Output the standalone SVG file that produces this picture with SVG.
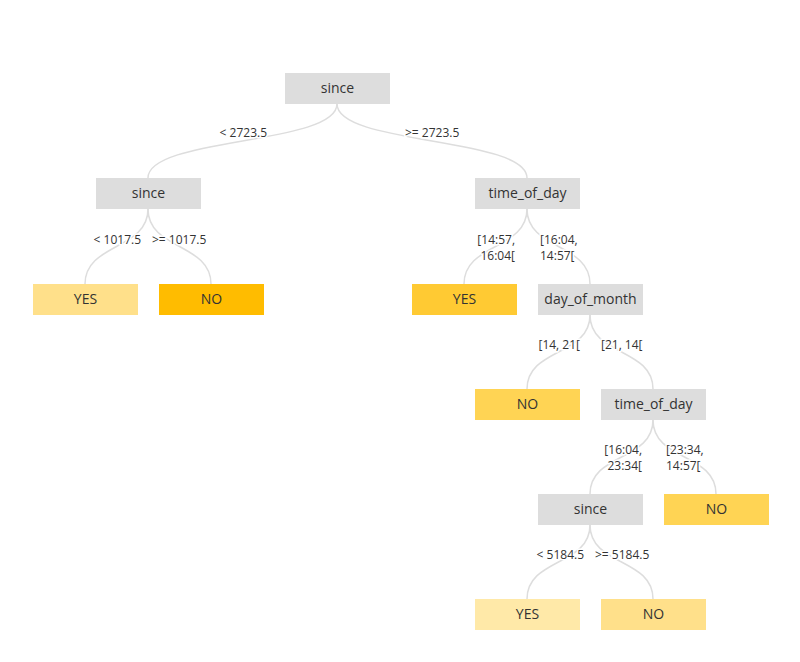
<svg xmlns="http://www.w3.org/2000/svg" width="800" height="662" viewBox="0 0 800 662">
<style>
text{font-family:"Open Sans","Noto Sans",sans-serif;fill:#333}
.n text{font-size:14px;text-anchor:middle}
.g{fill:#dddddd}
.e path{fill:none;stroke:#dddddd;stroke-width:1.5}
.l text{font-size:12px;stroke:#fff;stroke-width:3px;paint-order:stroke}
.r{text-anchor:end}
</style>
<rect width="800" height="662" fill="#fff"/>
<g class="e">
<path d="M337,104 C337,145 148,137 148,178"/>
<path d="M337,104 C337,145 527,137 527,178"/>
<path d="M148,209 C148,250 85,243 85,284"/>
<path d="M148,209 C148,250 211,243 211,284"/>
<path d="M527,209 C527,250 464,243 464,284"/>
<path d="M527,209 C527,250 590,243 590,284"/>
<path d="M590,315 C590,356 527,348 527,389"/>
<path d="M590,315 C590,356 653,348 653,389"/>
<path d="M653,420 C653,461 590,453 590,494"/>
<path d="M653,420 C653,461 716,453 716,494"/>
<path d="M590,525 C590,566 527,558 527,599"/>
<path d="M590,525 C590,566 653,558 653,599"/>
</g>
<g class="l">
<text class="r" x="267" y="137">&lt; 2723.5</text>
<text x="405" y="137">&gt;= 2723.5</text>
<text class="r" x="141" y="244">&lt; 1017.5</text>
<text x="152" y="244">&gt;= 1017.5</text>
<text class="r" x="515" y="244">[14:57,</text>
<text class="r" x="515" y="260">16:04[</text>
<text x="540" y="244">[16:04,</text>
<text x="540" y="260">14:57[</text>
<text class="r" x="580" y="349">[14, 21[</text>
<text x="601" y="349">[21, 14[</text>
<text class="r" x="642" y="454">[16:04,</text>
<text class="r" x="642" y="470">23:34[</text>
<text x="666" y="454">[23:34,</text>
<text x="666" y="470">14:57[</text>
<text class="r" x="584" y="559">&lt; 5184.5</text>
<text x="595" y="559">&gt;= 5184.5</text>
</g>
<g class="n">
<g id="n1"><rect class="g" x="285" y="73" width="105" height="31"/><text x="337.5" y="93">since</text></g>
<g id="n2"><rect class="g" x="96" y="178" width="105" height="31"/><text x="148.5" y="198">since</text></g>
<g id="n3"><rect class="g" x="475" y="178" width="105" height="31"/><text x="527.5" y="198">time_of_day</text></g>
<g id="n4"><rect fill="#ffe08a" x="33" y="284" width="105" height="31"/><text x="85.5" y="304">YES</text></g>
<g id="n5"><rect fill="#ffbc00" x="159" y="284" width="105" height="31"/><text x="211.5" y="304">NO</text></g>
<g id="n6"><rect fill="#ffca33" x="412" y="284" width="105" height="31"/><text x="464.5" y="304">YES</text></g>
<g id="n7"><rect class="g" x="538" y="284" width="105" height="31"/><text x="590.5" y="304">day_of_month</text></g>
<g id="n8"><rect fill="#ffd454" x="475" y="389" width="105" height="31"/><text x="527.5" y="409">NO</text></g>
<g id="n9"><rect class="g" x="601" y="389" width="105" height="31"/><text x="653.5" y="409">time_of_day</text></g>
<g id="n10"><rect class="g" x="538" y="494" width="105" height="31"/><text x="590.5" y="514">since</text></g>
<g id="n11"><rect fill="#ffd454" x="664" y="494" width="105" height="31"/><text x="716.5" y="514">NO</text></g>
<g id="n12"><rect fill="#ffe9a8" x="475" y="599" width="105" height="31"/><text x="527.5" y="619">YES</text></g>
<g id="n13"><rect fill="#ffe08a" x="601" y="599" width="105" height="31"/><text x="653.5" y="619">NO</text></g>
</g>
</svg>
